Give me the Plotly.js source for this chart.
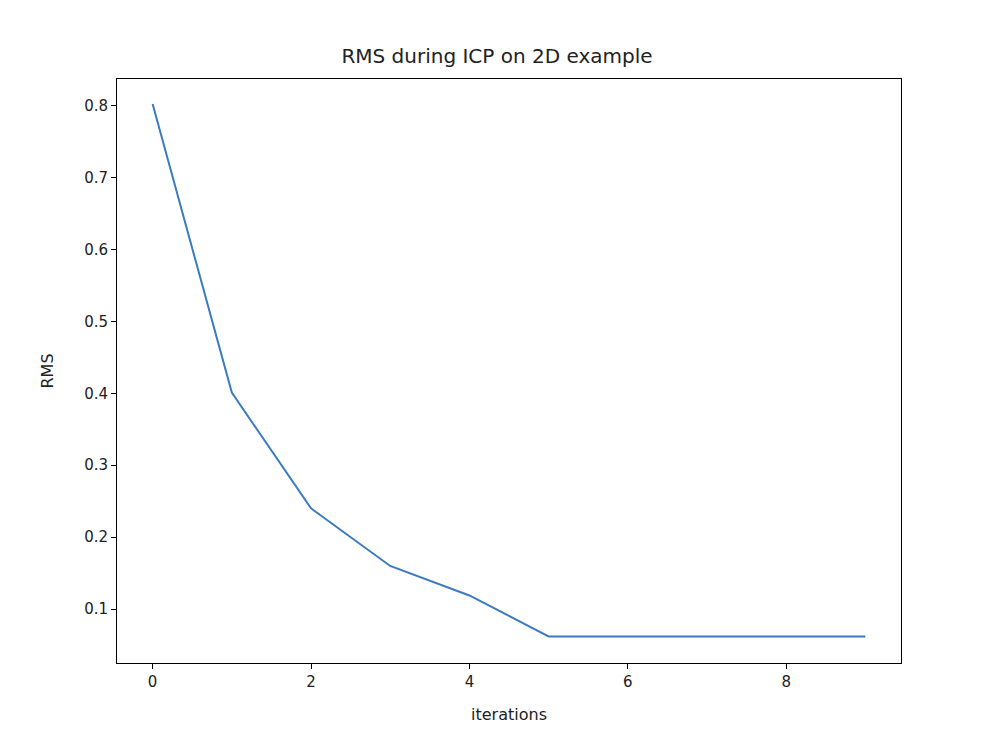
<!DOCTYPE html>
<html>
<head>
<script src="https://cdn.plot.ly/plotly-3.0.1.min.js"></script>
<style>body{margin:0;background:#fff}</style>
</head>
<body>
<div id="chart" style="width:994px;height:740px"></div>
<script>
let iterations = [0, 1, 2, 3, 4, 5, 6, 7, 8, 9];
let rms = [0.802, 0.401, 0.240, 0.160, 0.119, 0.062, 0.062, 0.062, 0.062, 0.062];

let trace = {
    x: iterations,
    y: rms,
    type: 'scatter',
    mode: 'lines',
    line: {color: '#3b7bbf', width: 2}
};

let axisStyle = {
    showgrid: false,
    zeroline: false,
    showline: true,
    linecolor: '#000',
    linewidth: 1,
    mirror: true,
    ticks: 'outside',
    ticklen: 5,
    tickcolor: '#000',
    tickfont: {size: 15, color: '#222'}
};

let layout = {
    width: 994,
    height: 740,
    font: {family: 'DejaVu Sans', color: '#222'},
    title: {text: 'RMS during ICP on 2D example', font: {size: 20}, y: 0.925, yanchor: 'middle'},
    showlegend: false,
    margin: {l: 117, r: 93, t: 79, b: 77},
    xaxis: Object.assign({}, axisStyle, {
        range: [-0.45, 9.45],
        tickvals: [0, 2, 4, 6, 8],
        title: {text: 'iterations', font: {size: 16}, standoff: 18}
    }),
    yaxis: Object.assign({}, axisStyle, {
        range: [0.0251, 0.8369],
        tickvals: [0.1, 0.2, 0.3, 0.4, 0.5, 0.6, 0.7, 0.8],
        tickformat: '.1f',
        title: {text: 'RMS', font: {size: 16}, standoff: 26}
    }),
    plot_bgcolor: '#fff',
    paper_bgcolor: '#fff'
};

Plotly.newPlot(document.getElementById('chart'), [trace], layout, {displayModeBar: false});
</script>
</body>
</html>
